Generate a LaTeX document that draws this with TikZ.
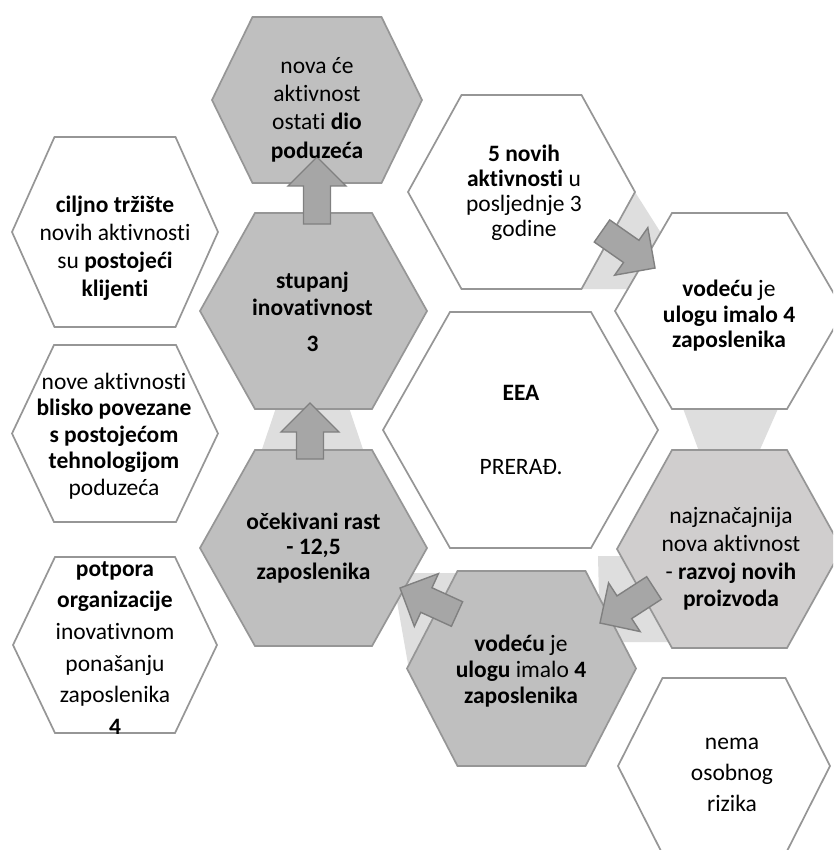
\documentclass[tikz,border=0pt]{standalone}
\usepackage{fontspec}
\setmainfont{Carlito}[Ligatures=CommonOff]
\usetikzlibrary{calc}
\definecolor{hexline}{RGB}{150,150,150}
\definecolor{hexdark}{RGB}{191,191,191}
\definecolor{hexmid}{RGB}{208,206,206}
\definecolor{bandgray}{RGB}{222,222,222}
\definecolor{arrfill}{RGB}{166,166,166}
\definecolor{arrline}{RGB}{128,128,128}
\newcommand\hexa[7]{%
  \coordinate (#1) at (#2,#3);
  \draw[#7] ({#2-#4},#3) -- ({#2-#6},{#3-#5}) -- ({#2+#6},{#3-#5}) -- ({#2+#4},#3) -- ({#2+#6},{#3+#5}) -- ({#2-#6},{#3+#5}) -- cycle;
}
\newcommand\blockarrow[3]{%
  \coordinate (#1h) at ($(#3)!29pt!(#2)$);
  \draw[barr] ($(#2)!13.5pt!90:(#3)$) -- ($(#1h)!13.5pt!90:(#3)$) -- ($(#1h)!29pt!90:(#3)$) -- (#3) -- ($(#1h)!29pt!-90:(#3)$) -- ($(#1h)!13.5pt!-90:(#3)$) -- ($(#2)!13.5pt!-90:(#3)$) -- cycle;
}
\tikzset{
  hexw/.style={draw=hexline, line width=1.7pt, fill=white, line join=miter},
  hexd/.style={draw=hexline, line width=1.7pt, fill=hexdark, line join=miter},
  hexm/.style={draw=hexline, line width=1.7pt, fill=hexmid, line join=miter},
  band/.style={fill=bandgray, draw=none},
  barr/.style={fill=arrfill, draw=arrline, line width=1.4pt, line join=miter},
  txt/.style={align=center, inner sep=0pt, text=black}
}
\begin{document}
\begin{tikzpicture}[x=1pt, y=-1pt]
\useasboundingbox (0,0) rectangle (833,850);
\clip (0,0) rectangle (833,850);
\fill[white] (0,0) rectangle (833,850);
% light connector bands
\fill[band] (635,192) -- (680,263) -- (680,289) -- (570,289) -- (600,240) -- cycle;
\fill[band] (282,390) -- (343,390) -- (370,470) -- (255,470) -- cycle;
\fill[band] (678,395) -- (784,395) -- (751,470) -- (706,470) -- cycle;
\fill[band] (598,556) -- (655,556) -- (680,642) -- (600,642) -- cycle;
\fill[band] (392,573) -- (480,573) -- (480,660) -- (408,664) -- cycle;
% hexagons
\hexa{hnova}{317}{100}{105}{83}{64.5}{hexd}
\hexa{hnovih}{521.5}{192}{113.5}{97}{60}{hexw}
\hexa{hcilj}{115}{232}{103}{95}{60.5}{hexw}
\hexa{hstup}{313.5}{311}{113.5}{98}{58.5}{hexd}
\hexa{htrvod}{729.5}{311}{114.5}{98}{57.5}{hexw}
\hexa{hnove}{115}{433.5}{103}{88.5}{61}{hexw}
\hexa{heea}{520.5}{430}{137.5}{118}{70.5}{hexw}
\hexa{hocek}{313.5}{548}{113.5}{98}{58.5}{hexd}
\hexa{hnajz}{729.5}{549}{112.5}{99}{57.5}{hexm}
\hexa{hpot}{115}{645}{102}{88}{60}{hexw}
\hexa{hbot}{521.5}{668.5}{114.5}{97.5}{64}{hexd}
\hexa{hnema}{724}{766}{106}{88}{61.5}{hexw}
% arrows
\coordinate (a1s) at (317,224); \coordinate (a1e) at (317,157);
\coordinate (a2s) at (310,459); \coordinate (a2e) at (310,403);
\coordinate (a3s) at (602,231); \coordinate (a3e) at (655,268);
\coordinate (a4s) at (654,588); \coordinate (a4e) at (600,623);
\coordinate (a5s) at (457,614); \coordinate (a5e) at (400,588);
\blockarrow{a1}{a1s}{a1e}
\blockarrow{a2}{a2s}{a2e}
\blockarrow{a3}{a3s}{a3e}
\blockarrow{a4}{a4s}{a4e}
\blockarrow{a5}{a5s}{a5e}
% texts
\node[txt, font=\fontsize{23.5}{28.3}\selectfont] (tnova) at (317,109.5) {nova će\\aktivnost\\ostati \textbf{dio}\\\textbf{poduzeća}};
\node[txt, font=\fontsize{23.5}{25}\selectfont] (tnovih) at (524,192.5) {\textbf{5 novih}\\\textbf{aktivnosti} u\\posljednje 3\\godine};
\node[txt, font=\fontsize{23.5}{28}\selectfont] (tcilj) at (115,248) {\textbf{ciljno tržište}\\novih aktivnosti\\su \textbf{postojeći}\\\textbf{klijenti}};
\node[txt, font=\fontsize{23.5}{27}\selectfont] (tstup) at (312.5,311.5) {\textbf{stupanj}\\\textbf{inovativnost}\\[9pt]\textbf{3}};
\node[txt, font=\fontsize{23.5}{25.5}\selectfont] (ttrvod) at (729,316) {\textbf{vodeću} je\\\textbf{ulogu imalo 4}\\\textbf{zaposlenika}};
\node[txt, font=\fontsize{23.5}{26.5}\selectfont] (tnove) at (114,436) {nove aktivnosti\\\textbf{blisko povezane}\\\textbf{s postojećom}\\\textbf{tehnologijom}\\poduzeća};
\node[txt, font=\fontsize{23.5}{28}\selectfont] (teea) at (521,430) {\textbf{EEA}\\[46pt]PRERAĐ.};
\node[txt, font=\fontsize{23.5}{25}\selectfont] (tocek) at (313.5,548) {\textbf{očekivani rast}\\\textbf{- 12,5}\\\textbf{zaposlenika}};
\node[txt, font=\fontsize{23.5}{27.7}\selectfont] (tnajz) at (731,559) {najznačajnija\\nova aktivnost\\- \textbf{razvoj novih}\\\textbf{proizvoda}};
\node[txt, font=\fontsize{23.5}{31.7}\selectfont] (tpot) at (115,648) {\textbf{potpora}\\\textbf{organizacije}\\inovativnom\\ponašanju\\zaposlenika\\\textbf{4}};
\node[txt, font=\fontsize{23.5}{26}\selectfont] (tbot) at (521,671) {\textbf{vodeću} je\\\textbf{ulogu} imalo \textbf{4}\\\textbf{zaposlenika}};
\node[txt, font=\fontsize{23.5}{31}\selectfont] (tnema) at (732,775) {nema\\osobnog\\rizika};
\end{tikzpicture}
\end{document}
